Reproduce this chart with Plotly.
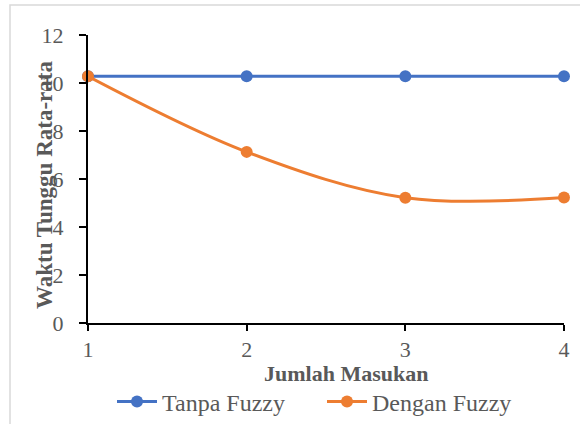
import plotly.graph_objects as go

x_vals = [1, 2, 3, 4]
tanpa_fuzzy = [10.28, 10.28, 10.28, 10.28]
dengan_fuzzy = [10.28, 7.13, 5.22, 5.23]
y_ticks = [0, 2, 4, 6, 8, 10, 12]
x_ticks = [1, 2, 3, 4]

BLUE = "#4472C4"
ORANGE = "#ED7D31"
GREY = "#595959"
FONT = "Liberation Serif"

fig = go.Figure()
fig.add_trace(go.Scatter(
    x=x_vals, y=tanpa_fuzzy, name="Tanpa Fuzzy", mode="lines+markers",
    line=dict(color=BLUE, width=3), marker=dict(color=BLUE, size=12),
    cliponaxis=False))
fig.add_trace(go.Scatter(
    x=x_vals, y=dengan_fuzzy, name="Dengan Fuzzy", mode="lines+markers",
    line=dict(color=ORANGE, width=3, shape="spline", smoothing=1),
    marker=dict(color=ORANGE, size=12), cliponaxis=False))

fig.update_layout(
    width=580, height=424,
    margin=dict(l=88, r=16, t=35, b=101, autoexpand=False),
    paper_bgcolor="white", plot_bgcolor="white",
    font=dict(family=FONT, size=22, color=GREY),
    showlegend=True,
    legend=dict(orientation="h", x=(112 - 88) / 476, xanchor="left",
                y=(323 - 402) / 288, yanchor="middle",
                entrywidth=155, entrywidthmode="pixels", itemwidth=40,
                font=dict(family=FONT, size=24, color=GREY),
                bgcolor="rgba(0,0,0,0)"),
    xaxis=dict(range=[1, 4], tickvals=x_ticks, showgrid=False, zeroline=False,
               showline=True, linecolor="black", linewidth=2,
               ticks="outside", ticklen=6, tickwidth=2, tickcolor="black",
               tickfont=dict(family=FONT, size=22, color=GREY)),
    yaxis=dict(range=[0, 12], tickvals=y_ticks, showgrid=False, zeroline=False,
               showline=True, linecolor="black", linewidth=2,
               ticks="outside", ticklen=7, tickwidth=2, tickcolor="black",
               ticklabelstandoff=11,
               tickfont=dict(family=FONT, size=22, color=GREY)),
    shapes=[dict(type="rect", xref="paper", yref="paper",
                 x0=(10 - 88) / 476, x1=1.3, y0=-0.6, y1=(323 - 5) / 288,
                 line=dict(color="#D9D9D9", width=1.5), layer="below")],
    annotations=[
        dict(text="<b>Jumlah Masukan</b>", xref="paper", yref="paper",
             x=(346 - 88) / 476, y=(323 - 373) / 288, showarrow=False,
             xanchor="center", yanchor="middle",
             font=dict(family=FONT, size=22, color=GREY)),
        dict(text="<b>Waktu Tunggu Rata-rata</b>", xref="paper", yref="paper",
             x=(45 - 88) / 476, y=(323 - 185) / 288, showarrow=False,
             textangle=-90, xanchor="center", yanchor="middle",
             font=dict(family=FONT, size=23, color=GREY)),
    ],
)

fig.write_html("out.html", config={"displayModeBar": False},
               post_script="document.body.style.margin='0px';")
